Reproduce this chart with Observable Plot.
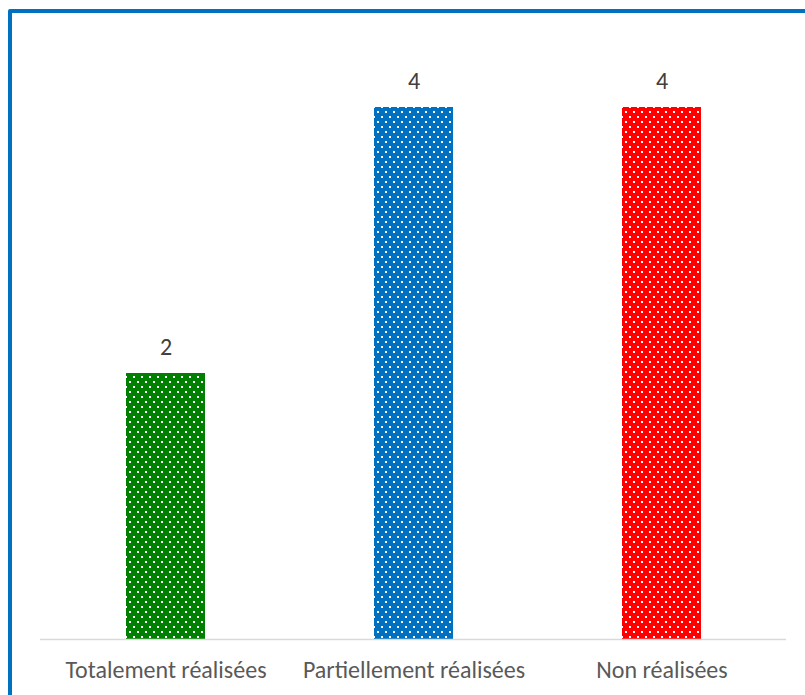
<!DOCTYPE html>
<html>
<head>
<meta charset="utf-8">
<script src="https://cdn.jsdelivr.net/npm/d3@7"></script>
<script src="https://cdn.jsdelivr.net/npm/@observablehq/plot@0.6"></script>
<style>
  html, body { margin: 0; padding: 0; background: #fff; }
  #wrap { position: relative; width: 805px; height: 695px; overflow: hidden; }
  #frame { position: absolute; left: 8px; top: 9px; width: 900px; height: 800px;
           border: 4px solid #0070C0; border-radius: 2px; box-sizing: border-box; }
  #chart { position: absolute; left: 0; top: 0; }
</style>
</head>
<body>
<div id="wrap">
  <div id="frame"></div>
  <div id="chart"></div>
</div>
<script>
const categories = ["Totalement réalisées", "Partiellement réalisées", "Non réalisées"];
const values = [2, 4, 4];
const colors = ["#008000", "#0070C0", "#FF0000"];

const data = categories.map((c, i) => ({category: c, value: values[i], pat: "url(#dots" + i + ")"}));

const font = "Carlito, Calibri, 'Open Sans', sans-serif";

function patternDefs(index, scales, values, dimensions, context) {
  const g = d3.create("svg:g");
  const defs = g.append("defs");
  colors.forEach((col, i) => {
    const p = defs.append("pattern")
      .attr("id", "dots" + i)
      .attr("patternUnits", "userSpaceOnUse")
      .attr("width", 8).attr("height", 10);
    p.append("rect").attr("width", 8).attr("height", 10).attr("fill", col);
    p.append("rect").attr("x", 1).attr("y", 1).attr("width", 2).attr("height", 2).attr("fill", "#fff");
    p.append("rect").attr("x", 5).attr("y", 6).attr("width", 2).attr("height", 2).attr("fill", "#fff");
  });
  return g.node();
}

const chart = Plot.plot({
  width: 805,
  height: 695,
  marginLeft: 40,
  marginRight: 19,
  marginTop: 107,
  marginBottom: 56,
  style: {fontFamily: font, fontSize: "24px", background: "transparent", overflow: "visible"},
  x: {domain: categories, paddingInner: 0.683, paddingOuter: 0.3415, label: null},
  y: {domain: [0, 4], axis: null},
  marks: [
    patternDefs,
    Plot.barY(data, {x: "category", y: "value", fill: "pat"}),
    Plot.ruleY([0], {stroke: "#d9d9d9", strokeWidth: 1.5}),
    Plot.text(data, {x: "category", y: "value", text: d => String(d.value), dy: -26, fill: "#404040", fontSize: 24}),
    Plot.axisX({tickSize: 0, tickPadding: 21, fill: "#595959", fontSize: 24, label: null})
  ]
});
document.getElementById("chart").appendChild(chart);
</script>
</body>
</html>
